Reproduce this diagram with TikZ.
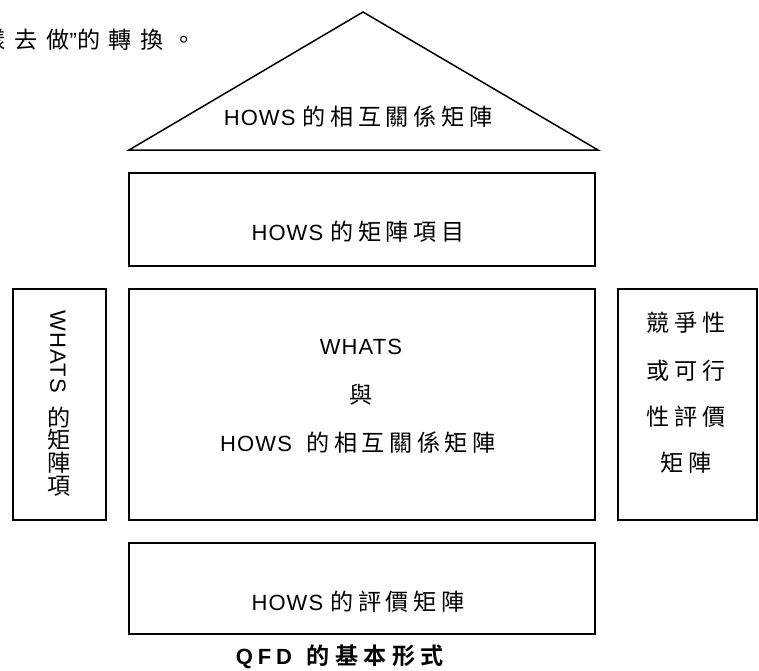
\documentclass[tikz,border=0pt]{standalone}
\usepackage{fontspec}
\setmainfont[LetterSpace=5]{Liberation Sans}
\newfontfamily\capfont[LetterSpace=22]{Liberation Sans}
\newfontfamily\quotefont{Liberation Sans}
\newfontfamily\cjk[LetterSpace=20,Scale=1.05]{Noto Sans CJK TC}
\newfontfamily\cjkintro[LetterSpace=38,Scale=1.05]{Noto Sans CJK TC}
\newfontfamily\cjkb[LetterSpace=24,Scale=1.05]{Noto Sans CJK TC Bold}
\newcommand{\C}[1]{{\cjk #1}}
\begin{document}
\begin{tikzpicture}[x=1pt,y=-1pt,
  box/.style={draw,line width=1.7pt,inner sep=0pt},
  txt/.style={inner sep=0pt,font=\fontsize{22}{24}\selectfont}]
\useasboundingbox (0,0) rectangle (759,670);
% top-left cut text
\node[txt,anchor=east] (intro) at (196,40) {{\cjkintro 樣去做}{\quotefont ”}{\cjkintro 的轉換。}};
% roof
\draw[line width=1.5pt,line join=miter] (129,150) coordinate (tl) -- (363,12) coordinate (apex) -- (598,150) coordinate (tr) -- cycle;
\node[txt] (roof) at (358,117) {HOWS \C{的相互關係矩陣}};
% boxes
\node[box,minimum width=466pt,minimum height=93pt] (b1) at (362,219.5) {};
\node[txt] (b1t) at (358,232) {HOWS \C{的矩陣項目}};
\node[box,minimum width=466pt,minimum height=231pt] (mid) at (362,404.5) {};
\node[txt] (m1) at (361,347) {WHATS};
\node[txt] (m2) at (361,395) {\C{與}};
\node[txt] (m3) at (358,443) {HOWS\ \ \C{的相互關係矩陣}};
\node[box,minimum width=93pt,minimum height=231pt] (left) at (59.5,404.5) {};
\node[txt,rotate=-90] (l0) at (58,352) {WHATS};
\node[txt] (l1) at (59,417) {\C{的}};
\node[txt] (l2) at (59,440) {\C{矩}};
\node[txt] (l3) at (59,463) {\C{陣}};
\node[txt] (l4) at (59,486) {\C{項}};
\node[box,minimum width=139pt,minimum height=231pt] (right) at (687.5,404.5) {};
\node[txt] (r1) at (686,323) {\C{競爭性}};
\node[txt] (r2) at (686,371) {\C{或可行}};
\node[txt] (r3) at (686,417) {\C{性評價}};
\node[txt] (r4) at (686,463) {\C{矩陣}};
\node[box,minimum width=466pt,minimum height=91pt] (b3) at (362,588.5) {};
\node[txt] (b3t) at (358,602) {HOWS \C{的評價矩陣}};
% caption
\node[txt] (cap) at (340,657) {{\capfont\bfseries QFD}\ \ {\cjkb 的基本形式}};
\end{tikzpicture}
\end{document}
